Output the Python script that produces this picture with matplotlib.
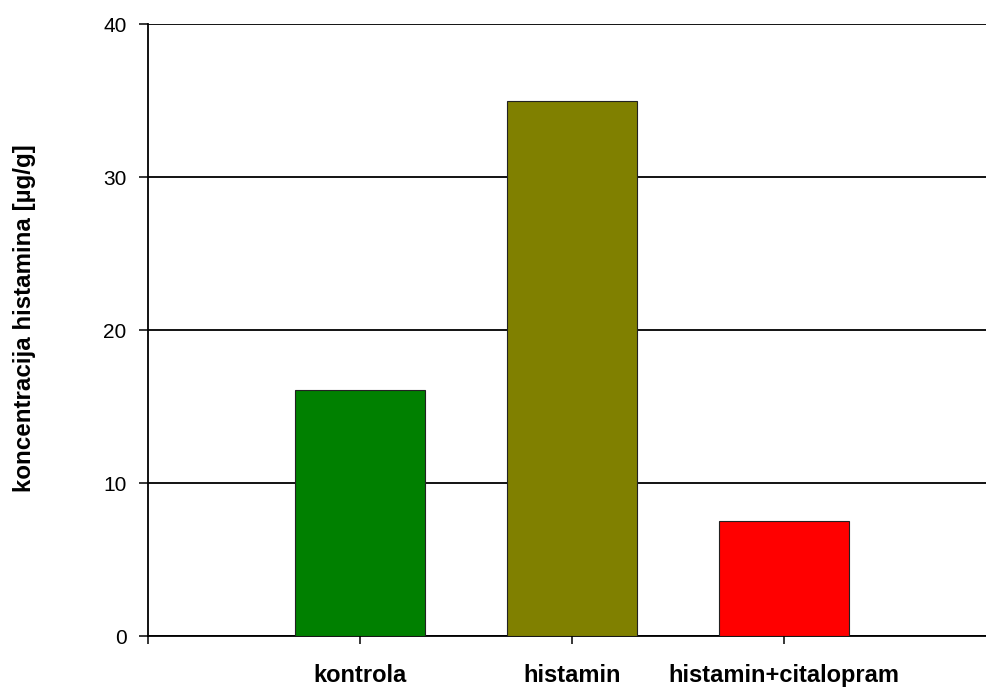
import matplotlib
matplotlib.use("Agg")
import matplotlib.pyplot as plt

plt.rcParams['font.family'] = ['Liberation Sans', 'DejaVu Sans']

# histamine concentration per group
groups = ['kontrola', 'histamin', 'histamin+citalopram']
values = [16.1, 35.0, 7.5]
colors = ['#008000', '#808000', '#FF0000']
y_ticks = [0, 10, 20, 30, 40]

fig = plt.figure(figsize=(9.87, 6.87), dpi=100)
ax = fig.add_axes([0.15, 0.0742, 0.85, 0.8908])

pos = [1, 2, 3]
ax.bar(pos, values, width=0.61, color=colors, edgecolor='#222222', linewidth=0.8, zorder=3)

ax.set_xlim(0, 3.958)
ax.set_ylim(0, 40)
ax.set_yticks(y_ticks)
ax.set_yticklabels([str(t) for t in y_ticks], fontsize=15)
ax.set_xticks([0] + pos)
ax.set_xticklabels([''] + groups, fontsize=17, fontweight='bold')

ax.grid(axis='y', color='black', linewidth=1.3)
ax.set_axisbelow(True)

for side in ['top', 'right']:
    ax.spines[side].set_visible(False)
for side in ['left', 'bottom']:
    ax.spines[side].set_linewidth(1.3)
    ax.spines[side].set_color('black')

ax.tick_params(axis='y', direction='out', length=6.5, width=1.1, pad=9)
ax.tick_params(axis='x', direction='out', length=6, width=1.1, pad=14)

fig.text(25 / 987, 1 - 318 / 687, 'koncentracija histamina [µg/g]',
         rotation=90, ha='center', va='center', fontsize=17.4, fontweight='bold')

fig.savefig('out.png', dpi=100)
